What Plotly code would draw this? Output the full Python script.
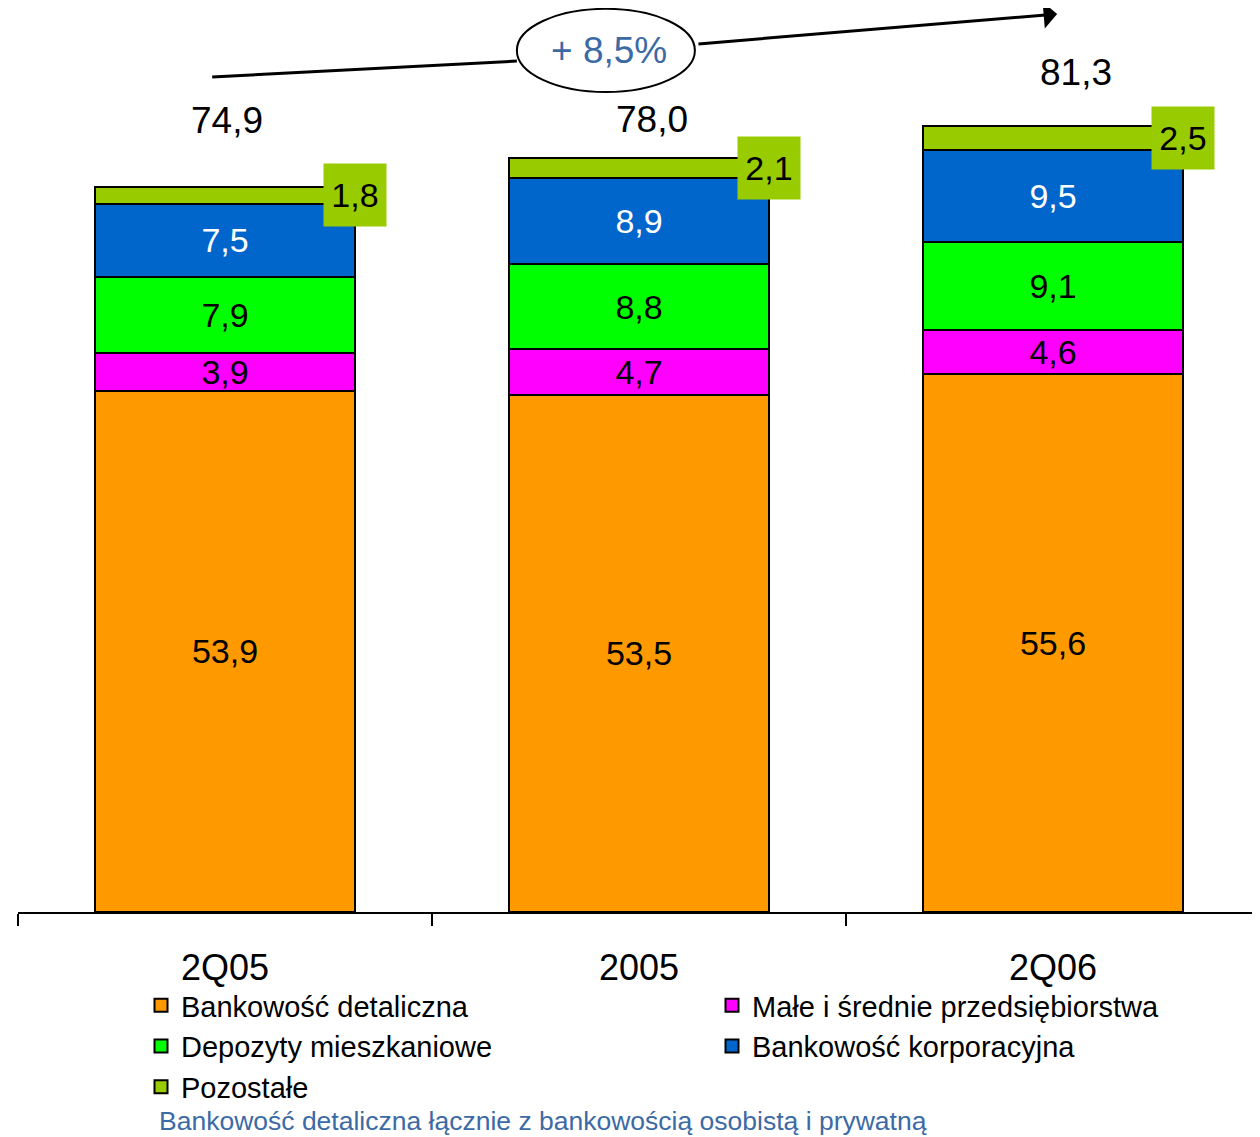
import plotly.graph_objects as go

# ---- data ----
categories = ["2Q05", "2005", "2Q06"]
series_names = ["Bankowość detaliczna", "Małe i średnie przedsiębiorstwa",
                "Depozyty mieszkaniowe", "Bankowość korporacyjna", "Pozostałe"]
retail = [53.9, 53.5, 55.6]
sme = [3.9, 4.7, 4.6]
deposits = [7.9, 8.8, 9.1]
corporate = [7.5, 8.9, 9.5]
other = [1.8, 2.1, 2.5]
totals = [74.9, 78.0, 81.3]
total_labels = ["74,9", "78,0", "81,3"]
growth_label = "+ 8,5%"
footnote = "Bankowość detaliczna łącznie z bankowością osobistą i prywatną"

# ---- styles ----
colors = ["#FF9900", "#FF00FF", "#00FF00", "#0066CC", "#99CC00"]
text_colors = ["black", "black", "black", "white", "black"]
FONT = "Liberation Sans, Arial, sans-serif"
BAR_W = 0.626
total_shift = [(2, 67), (13, 38), (23, 53)]  # pixel offsets of total labels (x, y)
W, H = 1252, 1129          # page has 8px body margin
ML, MB = 10, 225
PLOT_H = H - MB


def fmt(v):
    return f"{v:.1f}".replace(".", ",")


series = [retail, sme, deposits, corporate, other]
fig = go.Figure()
for i, (name, vals) in enumerate(zip(series_names, series)):
    fig.add_trace(go.Bar(
        x=categories, y=vals, name=name, width=BAR_W, showlegend=False,
        marker=dict(color=colors[i], line=dict(color="black", width=2)),
        text=[fmt(v) for v in vals] if i < 4 else None,
        textposition="inside" if i < 4 else "none",
        insidetextanchor="middle",
        constraintext="none",
        textfont=dict(family=FONT, size=34, color=text_colors[i]),
        hoverinfo="skip",
    ))
# legend entries (square swatches)
for i, name in enumerate(series_names):
    fig.add_trace(go.Scatter(
        x=[None], y=[None], mode="markers", name=name,
        marker=dict(symbol="square", size=13, color=colors[i],
                    line=dict(color="black", width=2)),
    ))

# boxes for "Pozostałe"
for j in range(len(categories)):
    base = retail[j] + sme[j] + deposits[j] + corporate[j]
    fig.add_annotation(
        x=j + BAR_W / 2, y=base + other[j] / 2, xref="x", yref="y",
        text=fmt(other[j]), showarrow=False, width=60, height=60,
        bgcolor="#99CC00", borderpad=1,
        font=dict(family=FONT, size=34, color="black"),
    )

# totals
for j in range(len(categories)):
    fig.add_annotation(
        x=j, y=totals[j], xref="x", yref="y", text=total_labels[j],
        showarrow=False, xshift=total_shift[j][0], yshift=total_shift[j][1],
        font=dict(family=FONT, size=37, color="black"),
    )

# growth arrow
fig.add_shape(type="line", xref="x", yref="y", x0=-0.031, y0=86.35, x1=0.705, y1=88.0,
              line=dict(color="black", width=3))
fig.add_annotation(x=2.01, y=92.86, ax=1.14, ay=89.76, xref="x", yref="y",
                   axref="x", ayref="y", text="", showarrow=True,
                   arrowhead=1, arrowsize=1.5, arrowwidth=3, arrowcolor="black")
fig.add_shape(type="circle", xref="x", yref="y", x0=0.705, x1=1.135, y0=84.8, y1=93.4,
              fillcolor="white", line=dict(color="black", width=2))
fig.add_annotation(x=0.9275, y=89.14, xref="x", yref="y", text=growth_label,
                   showarrow=False, font=dict(family=FONT, size=37, color="#3C6AA5"))

# footnote
fig.add_annotation(x=0.1119, y=(PLOT_H - 1113) / PLOT_H, xref="paper", yref="paper",
                   xanchor="left", yanchor="middle", text=footnote, showarrow=False,
                   font=dict(family=FONT, size=26.5, color="#3C6AA5"))

fig.update_layout(
    width=W, height=H, barmode="stack",
    margin=dict(l=ML, r=0, t=0, b=MB, pad=0, autoexpand=False),
    paper_bgcolor="white", plot_bgcolor="white",
    font=dict(family=FONT, color="black"),
    showlegend=True,
    legend=dict(orientation="h", xref="container", yref="container",
                x=133 / W, y=1 - 972 / H, xanchor="left", yanchor="top",
                entrywidth=526, entrywidthmode="pixels",
                font=dict(family=FONT, size=29, color="black"),
                traceorder="normal", bgcolor="rgba(0,0,0,0)"),
    xaxis=dict(type="category", range=[-0.5, 2.5], showline=True, linecolor="black",
               linewidth=2, ticks="outside", tickson="boundaries", ticklen=12,
               tickwidth=2, tickcolor="black", showgrid=False, zeroline=False,
               tickfont=dict(family=FONT, size=36, color="black"),
               ticklabelstandoff=23, fixedrange=True, automargin=False),
    yaxis=dict(range=[0, PLOT_H / 9.67], visible=False, showgrid=False, zeroline=False,
               fixedrange=True, automargin=False),
)

fig.write_html("out.html")
